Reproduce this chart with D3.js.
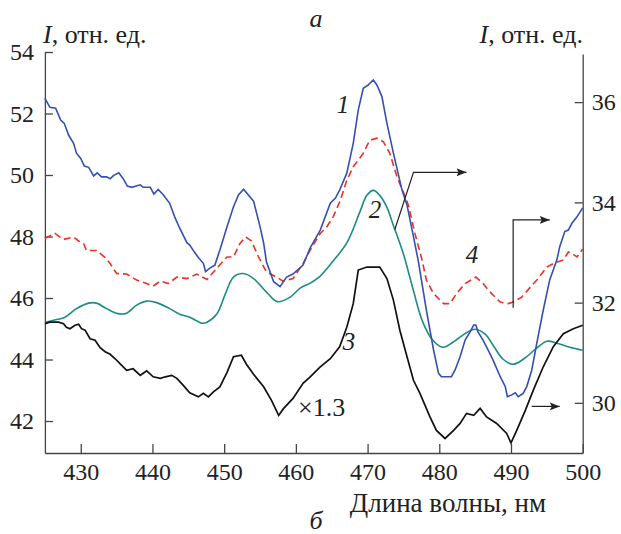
<!DOCTYPE html>
<html>
<head>
<meta charset="utf-8">
<script src="https://d3js.org/d3.v7.min.js"></script>
<style>
  body { margin: 0; background: #fff; }
</style>
</head>
<body>
<div id="chart"></div>
<script>
// wavelength (nm), intensity; curve 1 on the left axis, 2-4 on the right axis
var curve1 = [[425.0,52.49],[425.7,52.20],[426.5,52.17],[427.2,51.79],[427.7,51.68],[428.3,51.30],[429.0,51.03],[429.4,50.71],[430.0,50.54],[430.5,50.29],[431.1,50.25],[431.8,49.97],[432.3,50.07],[432.9,49.94],[433.6,49.94],[434.1,49.88],[434.6,49.99],[435.3,50.07],[435.9,49.89],[436.5,49.64],[437.1,49.60],[438.3,49.68],[438.7,49.60],[439.7,49.60],[440.2,49.38],[440.8,49.53],[441.5,49.36],[442.4,49.08],[443.1,48.64],[443.8,48.27],[444.8,47.80],[445.2,47.72],[445.8,47.51],[446.4,47.32],[447.1,47.13],[447.4,46.86],[448.0,46.97],[448.7,47.07],[449.4,47.56],[450.4,48.32],[451.3,48.97],[452.0,49.35],[452.7,49.54],[454.1,49.15],[455.0,48.32],[455.5,47.79],[455.9,47.17],[456.4,46.85],[456.9,46.53],[457.8,46.37],[458.7,46.68],[459.6,46.78],[461.0,47.07],[462.0,47.63],[463.4,48.21],[464.8,49.08],[465.5,49.24],[466.1,49.51],[467.1,50.06],[468.0,51.03],[468.7,52.11],[469.4,52.82],[470.1,52.93],[470.8,53.09],[471.3,52.93],[472.0,52.55],[472.7,51.68],[473.6,50.71],[474.8,49.51],[475.5,49.02],[476.3,48.11],[477.1,47.17],[478.2,45.61],[479.2,44.31],[479.9,43.55],[480.3,43.44],[481.7,43.44],[482.2,43.66],[482.9,44.09],[483.6,44.63],[484.3,44.90],[484.8,45.12],[485.1,45.12],[485.4,44.90],[486.1,44.63],[486.8,44.31],[487.5,43.98],[488.5,43.44],[489.2,43.12],[489.5,42.79],[490.1,42.85],[490.6,42.92],[491.0,42.79],[491.7,42.90],[492.2,43.12],[492.9,43.66],[493.6,44.53],[494.5,45.61],[495.4,46.59],[496.4,47.24],[496.8,47.67],[497.5,48.16],[498.0,48.21],[498.5,48.43],[499.2,48.64],[500.0,48.93]];

var curve2 = [[425.0,31.61],[426.2,31.65],[427.8,31.71],[429.4,31.88],[431.1,31.99],[432.2,31.99],[433.6,31.88],[435.2,31.78],[436.4,31.79],[437.8,31.95],[439.2,32.03],[440.6,32.00],[442.4,31.88],[443.8,31.77],[445.2,31.71],[446.9,31.59],[447.6,31.61],[449.0,31.78],[450.1,32.15],[451.3,32.51],[452.7,32.58],[454.1,32.48],[455.9,32.21],[457.4,32.02],[459.2,32.11],[460.6,32.29],[462.0,32.39],[463.4,32.53],[465.2,32.83],[467.1,33.19],[468.9,33.80],[469.9,34.14],[470.8,34.24],[471.7,34.14],[472.7,33.90],[473.6,33.54],[475.0,32.97],[476.3,32.29],[477.7,31.61],[479.1,31.25],[480.5,31.11],[481.9,31.21],[483.9,31.41],[485.0,31.47],[486.4,31.37],[487.5,31.15],[488.9,30.87],[490.3,30.77],[491.9,30.89],[493.4,31.07],[495.0,31.23],[496.4,31.19],[498.2,31.11],[500.0,31.05]];

var curve3 = [[425.0,31.58],[425.7,31.61],[426.9,31.61],[427.6,31.58],[428.0,31.51],[428.5,31.48],[429.2,31.55],[429.7,31.57],[430.1,31.48],[430.6,31.45],[431.3,31.28],[432.0,31.25],[432.7,31.10],[433.4,31.02],[434.1,30.97],[434.8,30.88],[435.5,30.78],[436.4,30.65],[437.3,30.68],[438.3,30.55],[439.2,30.64],[440.1,30.52],[441.1,30.49],[441.8,30.52],[442.7,30.55],[443.4,30.49],[444.3,30.35],[445.2,30.20],[446.4,30.12],[447.1,30.19],[447.8,30.12],[448.5,30.22],[449.4,30.32],[450.4,30.61],[451.3,30.92],[452.4,30.95],[453.1,30.77],[454.1,30.57],[455.5,30.32],[456.6,30.05],[457.6,29.75],[458.3,29.89],[459.6,30.09],[461.0,30.39],[462.0,30.52],[463.4,30.72],[464.8,30.88],[466.1,31.12],[467.1,31.51],[468.0,31.98],[468.7,32.65],[469.9,32.71],[470.8,32.71],[471.7,32.71],[472.7,32.48],[473.6,32.05],[474.5,31.45],[475.5,30.92],[476.4,30.45],[477.3,30.19],[478.7,29.72],[479.6,29.45],[480.8,29.29],[482.0,29.45],[482.9,29.59],[483.8,29.79],[484.8,29.75],[485.7,29.89],[486.6,29.72],[488.0,29.59],[489.4,29.39],[490.0,29.20],[490.8,29.45],[492.0,29.85],[493.1,30.25],[494.5,30.72],[495.9,31.12],[497.3,31.38],[498.7,31.48],[500.0,31.55]];

var curve4 = [[425.0,33.28],[426.4,33.38],[427.6,33.26],[429.0,33.31],[429.7,33.23],[430.4,33.18],[430.8,33.04],[432.2,33.04],[433.4,32.90],[434.1,32.78],[435.0,32.58],[436.4,32.57],[437.8,32.45],[439.2,32.38],[440.1,32.33],[441.1,32.43],[442.2,32.38],[443.4,32.51],[444.8,32.48],[446.2,32.57],[447.6,32.46],[449.0,32.69],[450.4,32.91],[451.3,32.91],[452.2,33.18],[453.0,33.31],[453.8,33.23],[454.8,32.91],[455.9,32.61],[457.3,32.51],[458.2,32.43],[459.6,32.48],[461.0,32.78],[462.0,33.05],[463.4,33.38],[464.3,33.51],[465.2,33.71],[466.2,34.04],[467.1,34.44],[468.0,34.71],[469.4,34.98],[470.3,35.24],[471.3,35.28],[472.2,35.21],[473.1,34.98],[474.1,34.51],[475.0,34.20],[475.7,33.94],[476.6,33.38],[477.6,32.85],[478.2,32.45],[479.2,32.18],[480.6,31.98],[481.5,31.98],[482.4,32.18],[483.6,32.38],[485.1,32.51],[486.1,32.38],[487.3,32.18],[488.5,32.01],[489.6,31.98],[490.3,32.01],[491.5,32.11],[492.7,32.31],[493.6,32.45],[495.0,32.71],[495.9,32.78],[497.3,32.85],[498.0,33.01],[498.5,32.98],[499.2,32.91],[500.0,33.07]];

var xTicks = [430, 440, 450, 460, 470, 480, 490, 500];
var leftTicks = [42, 44, 46, 48, 50, 52, 54];
var rightTicks = [30, 32, 34, 36];

var W = 621, H = 534;
var FONT = "Liberation Serif";
var svg = d3.select("#chart").append("svg").attr("width", W).attr("height", H)
  .attr("font-family", FONT);

var x = d3.scaleLinear().domain([425, 500]).range([44.9, 582.7]);
var yL = d3.scaleLinear().domain([40.96, 54]).range([453, 52]);
var yR = d3.scaleLinear().domain([29, 36.96]).range([453, 54]);

function styleAxis(g) {
  g.attr("font-family", FONT).attr("font-size", 24);
  g.selectAll("path, line").attr("stroke", "#444").attr("stroke-width", 1.3);
  g.selectAll("text").attr("fill", "#222");
}

svg.append("g").attr("transform", "translate(0,453)")
  .call(d3.axisBottom(x).tickValues(xTicks).tickFormat(d3.format("d")).tickSizeInner(-9).tickSizeOuter(0).tickPadding(10))
  .call(styleAxis);
svg.append("g").attr("transform", "translate(44.9,0)")
  .call(d3.axisLeft(yL).tickValues(leftTicks).tickFormat(d3.format("d")).tickSizeInner(-8).tickSizeOuter(0).tickPadding(11))
  .call(styleAxis);
svg.append("g").attr("transform", "translate(582.7,0)")
  .call(d3.axisRight(yR).tickValues(rightTicks).tickFormat(d3.format("d")).tickSizeInner(-8).tickSizeOuter(0).tickPadding(9))
  .call(styleAxis);

var lineL = d3.line().x(d => x(d[0])).y(d => yL(d[1]));
var lineR = d3.line().x(d => x(d[0])).y(d => yR(d[1]));
var lineRs = d3.line().x(d => x(d[0])).y(d => yR(d[1])).curve(d3.curveCatmullRom);

svg.append("path").datum(curve2).attr("d", lineRs).attr("fill", "none").attr("stroke", "#1b8c86").attr("stroke-width", 1.6);
svg.append("path").datum(curve3).attr("d", lineR).attr("fill", "none").attr("stroke", "#111").attr("stroke-width", 1.7);
svg.append("path").datum(curve4).attr("d", lineR).attr("fill", "none").attr("stroke", "#ee3026").attr("stroke-width", 1.6).attr("stroke-dasharray", "7,4");
svg.append("path").datum(curve1).attr("d", lineL).attr("fill", "none").attr("stroke", "#3550b0").attr("stroke-width", 1.6);

// arrows to the right axis
svg.append("defs").append("marker").attr("id", "arr").attr("viewBox", "0 0 10 8")
  .attr("refX", 10).attr("refY", 4).attr("markerWidth", 10).attr("markerHeight", 8)
  .attr("markerUnits", "userSpaceOnUse").attr("orient", "auto")
  .append("path").attr("d", "M0,0L10,4L0,8L2,4Z").attr("fill", "#222");

function arrow(pts) {
  svg.append("path").attr("d", d3.line()(pts.map(p => [x(p[0]), yR(p[1])])))
    .attr("fill", "none").attr("stroke", "#222").attr("stroke-width", 1.2).attr("marker-end", "url(#arr)");
}
arrow([[473.8, 33.46], [476.4, 34.60], [483.8, 34.60]]);
arrow([[490.3, 31.9], [490.3, 33.65], [495.4, 33.65]]);
arrow([[492.9, 29.93], [496.8, 29.93]]);

// labels
function label(t, px, py, size, italic, anchor) {
  svg.append("text").attr("x", px).attr("y", py).attr("font-size", size).attr("fill", "#222")
    .attr("font-style", italic ? "italic" : "normal").attr("text-anchor", anchor || "start").text(t);
}
label("а", 316, 27, 26, true, "middle");
label("б", 316, 529, 26, true, "middle");

var yl = svg.append("text").attr("x", 43).attr("y", 43).attr("font-size", 26).attr("fill", "#222");
yl.append("tspan").attr("font-style", "italic").text("I");
yl.append("tspan").text(", отн. ед.");
var yr = svg.append("text").attr("x", 583).attr("y", 43).attr("font-size", 26).attr("fill", "#222").attr("text-anchor", "end");
yr.append("tspan").attr("font-style", "italic").text("I");
yr.append("tspan").text(", отн. ед.");

label("Длина волны, нм", 448, 512, 27, false, "middle");

label("1", 343, 113, 25, true, "middle");
label("2", 375, 218, 25, true, "middle");
label("3", 349, 350, 25, true, "middle");
label("4", 472, 263, 25, true, "middle");
label("×1.3", 298, 416, 26, false, "start");
</script>
</body>
</html>
